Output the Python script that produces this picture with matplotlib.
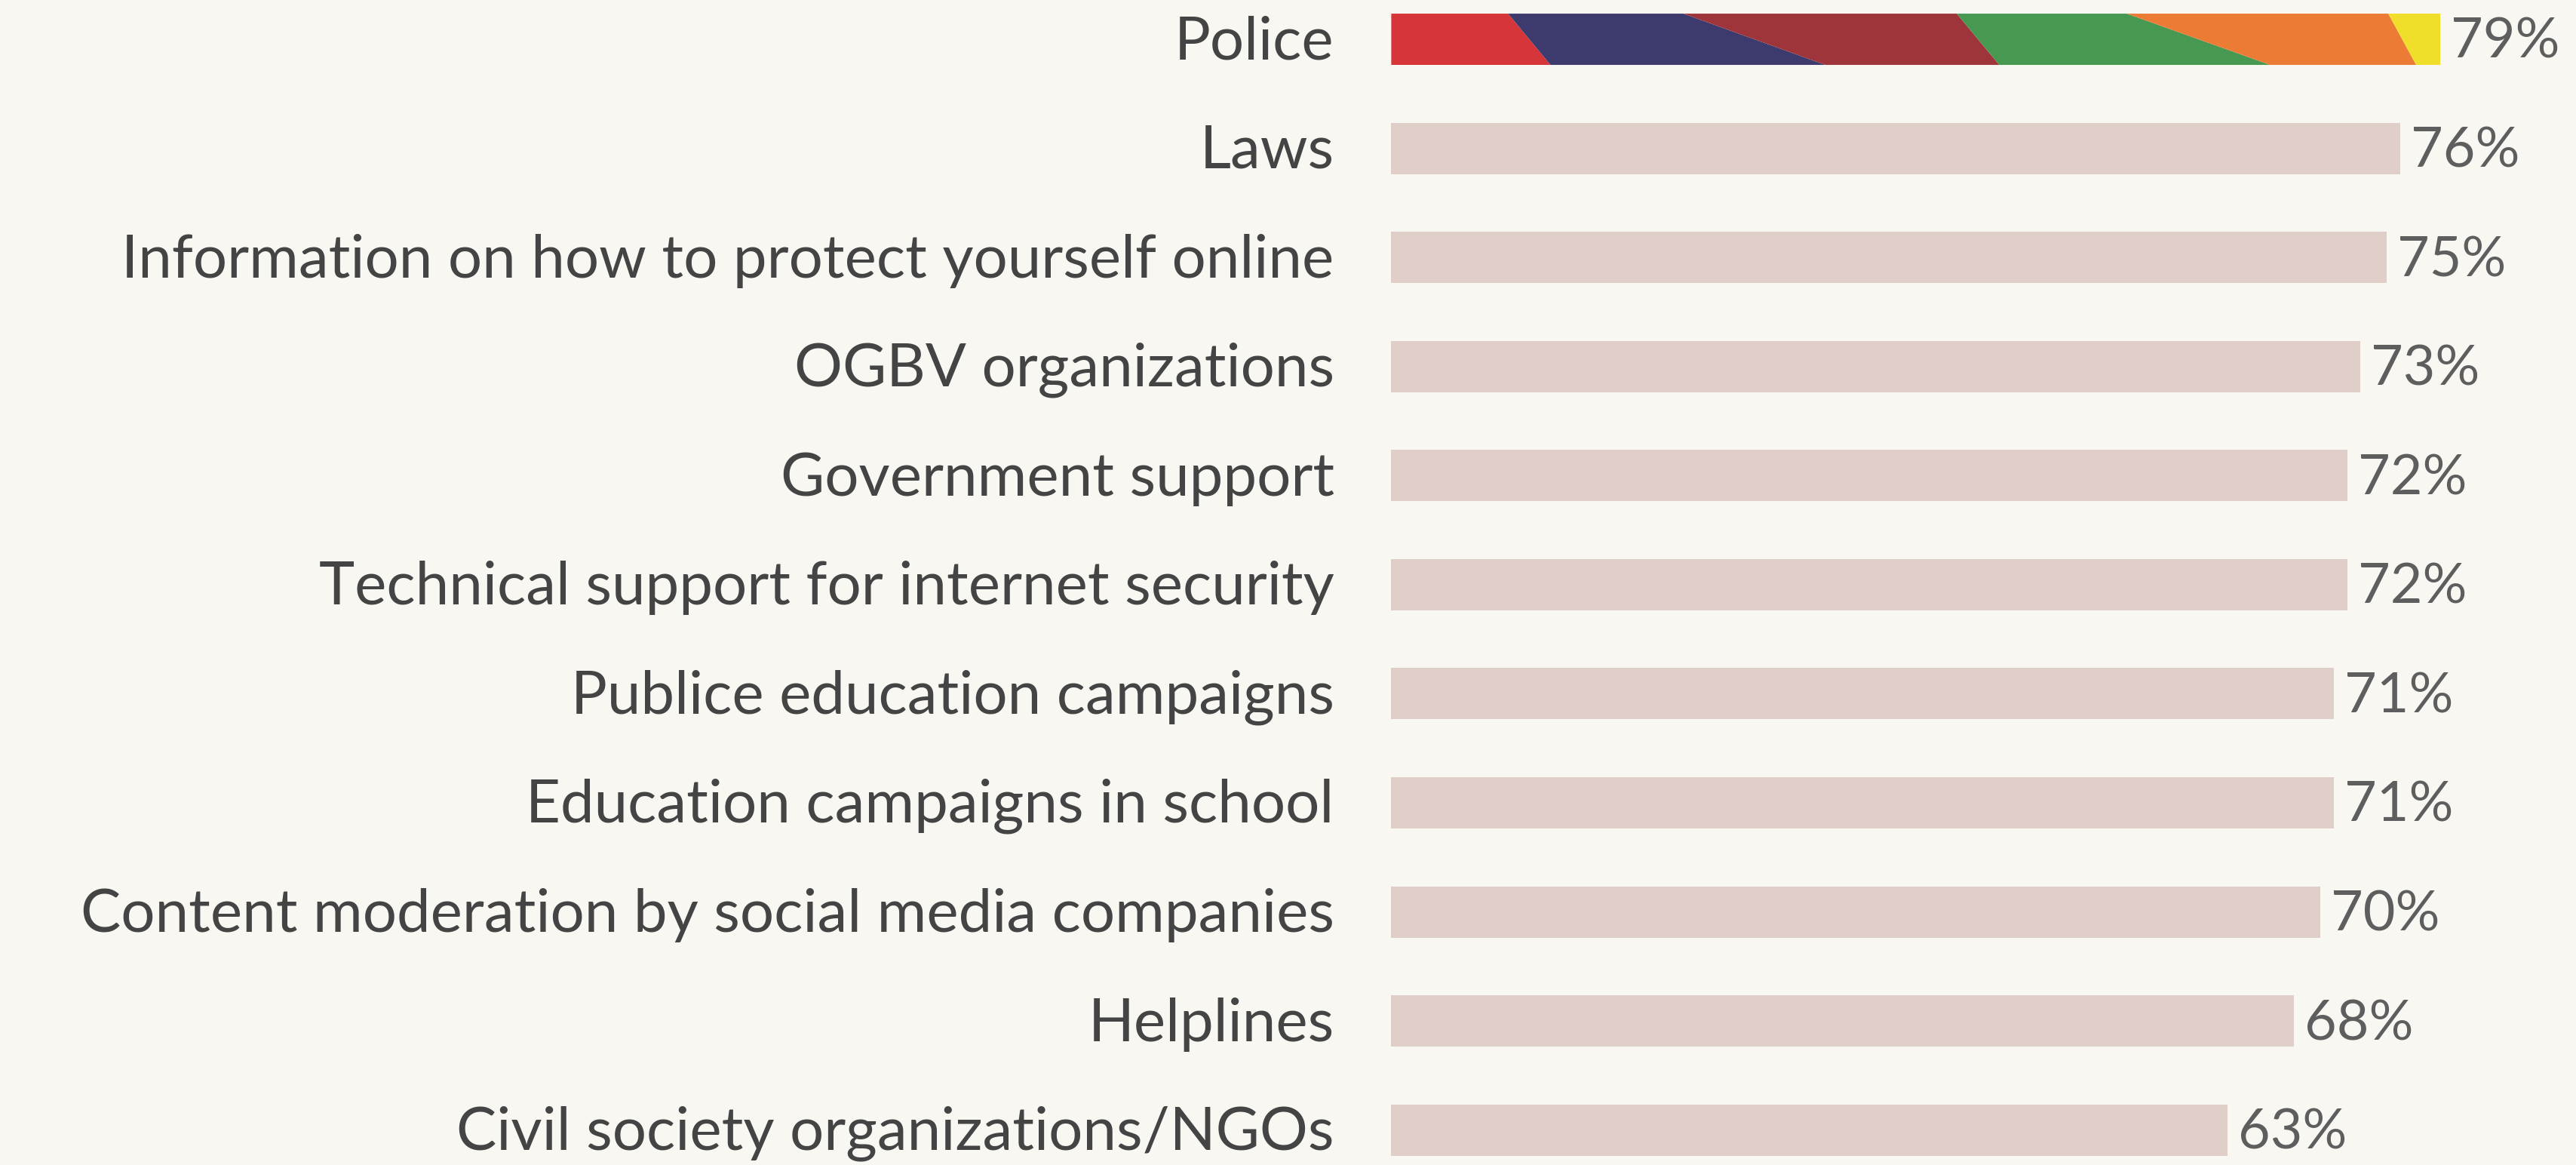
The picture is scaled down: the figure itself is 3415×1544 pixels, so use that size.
import matplotlib
matplotlib.use('Agg')
import matplotlib.pyplot as plt
import numpy as np

# data
categories = ['Police', 'Laws', 'Information on how to protect yourself online',
              'OGBV organizations', 'Government support',
              'Technical support for internet security',
              'Publice education campaigns', 'Education campaigns in school',
              'Content moderation by social media companies', 'Helplines',
              'Civil society organizations/NGOs']
values = [79, 76, 75, 73, 72, 72, 71, 71, 70, 68, 63]

# stripe breakpoints of the highlighted bar (percent, top edge / bottom edge)
stripe_top = [0, 8.8, 22.0, 42.6, 55.4, 75.1, 79]
stripe_bottom = [0, 12.0, 32.7, 45.8, 66.2, 77.2, 79]
stripe_colors = ['#D6363A', '#3D3B6E', '#9E353A', '#479850', '#EC7B35', '#F0DE2A']

bg = '#F9F7F2'
bar_color = '#E0CFC8'
label_color = '#444444'
value_color = '#5E5E5E'

plt.rcParams['font.family'] = ['Lato', 'DejaVu Sans']

fig = plt.figure(figsize=(34.16, 15.44), dpi=100, facecolor=bg)
ax = fig.add_axes([0, 0, 1, 1])
ax.set_facecolor(bg)

y = np.arange(len(categories))
h = 0.47
ax.barh(y[1:], values[1:], height=h, color=bar_color, linewidth=0)

# striped first bar
y0 = y[0]
for i, c in enumerate(stripe_colors):
    xs = [stripe_top[i], stripe_top[i + 1], stripe_bottom[i + 1], stripe_bottom[i]]
    ys = [y0 - h / 2, y0 - h / 2, y0 + h / 2, y0 + h / 2]
    ax.fill(xs, ys, color=c, linewidth=0)

for yi, v, lab in zip(y, values, categories):
    ax.text(v + 0.8, yi + 0.03, f'{v}%', ha='left', va='center',
            fontsize=53, color=value_color)
    ax.text(-4.3, yi + 0.03, lab, ha='right', va='center',
            fontsize=57.5, color=label_color)

ax.set_xlim(-104.8, 89.3)
ax.set_ylim(10.32, -0.36)
ax.axis('off')

fig.savefig('out.png', dpi=100, facecolor=bg)
